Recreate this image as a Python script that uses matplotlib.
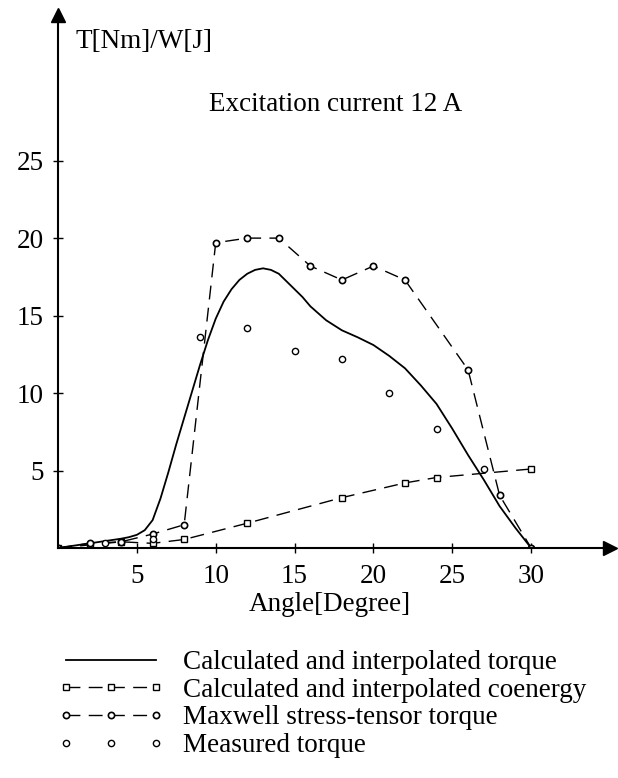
import numpy as np
import matplotlib.pyplot as plt

plt.rcParams['font.family'] = ['Liberation Serif', 'DejaVu Serif']
FS = 19.5

# 計算・補間トルク（実線）
angle_calc = [0, 1, 2, 3, 4, 4.5, 5, 5.5, 6, 6.5, 7, 7.5, 8, 8.5, 9, 9.5, 10, 10.5, 11, 11.5,
              12, 12.5, 13, 13.5, 14, 14.5, 15, 15.5, 16, 17, 18, 19, 20, 21, 22, 23, 24,
              25, 26, 27, 28, 29, 30]
torque_calc = [0, 0.15, 0.3, 0.45, 0.6, 0.7, 0.85, 1.15, 1.8, 3.2, 4.9, 6.7, 8.4, 10.1, 11.8,
               13.4, 14.8, 15.9, 16.7, 17.3, 17.7, 17.95, 18.05, 17.95, 17.7, 17.2, 16.7,
               16.2, 15.6, 14.7, 14.05, 13.6, 13.1, 12.4, 11.6, 10.5, 9.3, 7.7, 6.0, 4.4,
               2.7, 1.3, 0]

# 計算・補間コエネルギー
angle_coen = [0, 2, 4, 6, 8, 12, 18, 22, 24, 30]
coenergy = [0, 0.2, 0.4, 0.3, 0.55, 1.6, 3.25, 4.2, 4.55, 5.1]

# マクスウェル応力テンソル法トルク
angle_mx = [0, 2, 4, 6, 8, 10, 12, 14, 16, 18, 20, 22, 26, 28, 30]
torque_mx = [0, 0.3, 0.4, 0.9, 1.5, 19.7, 20.0, 20.0, 18.2, 17.3, 18.2, 17.3, 11.5, 3.4, 0]

# 実測トルク
angle_meas = [3, 6, 9, 12, 15, 18, 21, 24, 27]
torque_meas = [0.3, 0.6, 13.6, 14.2, 12.7, 12.2, 10.0, 7.7, 5.1]

fig = plt.figure(figsize=(6.18, 7.78), dpi=100)
ax = fig.add_axes([58 / 618, 230 / 778, 552 / 618, 533 / 778])

ax.plot(angle_calc, torque_calc, color='black', linewidth=1.3,
        label='Calculated and interpolated torque')
ax.plot(angle_coen, coenergy, color='black', linewidth=1.0, dashes=(10, 6),
        marker='s', markersize=4.5, markerfacecolor='white', markeredgewidth=1.0,
        label='Calculated and interpolated coenergy')
ax.plot(angle_mx, torque_mx, color='black', linewidth=1.0, dashes=(10, 6),
        marker='o', markersize=4.5, markerfacecolor='white', markeredgewidth=1.2,
        label='Maxwell stress-tensor torque')
ax.plot(angle_meas, torque_meas, linestyle='none', color='black',
        marker='o', markersize=4.5, markerfacecolor='white', markeredgewidth=1.0,
        label='Measured torque')

ax.set_xlim(0, 35)
ax.set_ylim(0, 34.4)
ax.spines['top'].set_visible(False)
ax.spines['right'].set_visible(False)
ax.spines['left'].set_linewidth(1.5)
ax.spines['bottom'].set_linewidth(1.5)
ax.set_xticks([5, 10, 15, 20, 25, 30])
ax.set_yticks([5, 10, 15, 20, 25])
ax.tick_params(direction='inout', length=7, width=1, labelsize=FS)
ax.tick_params(axis='y', pad=7)
ax.tick_params(axis='x', pad=8)

# 軸の矢印
ax.plot(1, 0, '>', color='black', markersize=10, transform=ax.transAxes, clip_on=False)
ax.plot(0, 1, '^', color='black', markersize=10, transform=ax.transAxes, clip_on=False)

fig.text(75 / 618, 1 - 48 / 778, 'T[Nm]/W[J]', fontsize=FS, va='baseline', ha='left')
fig.text(336 / 618, 1 - 111 / 778, 'Excitation current 12 A', fontsize=FS,
         va='baseline', ha='center')
fig.text(330 / 618, 1 - 611 / 778, 'Angle[Degree]', fontsize=FS, va='baseline', ha='center')

fig.legend(loc='upper left', bbox_to_anchor=(58 / 618, 1 - 650 / 778),
           frameon=False, fontsize=FS, numpoints=3, handlelength=3.9,
           handletextpad=0.73, labelspacing=0.1, borderaxespad=0, borderpad=0)

plt.savefig('out.png', dpi=100)
